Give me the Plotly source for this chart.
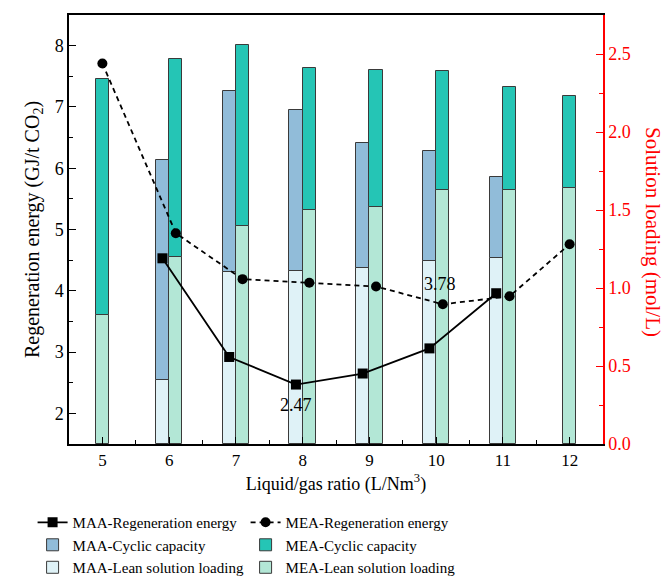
import plotly.graph_objects as go

# ---- data ----
ratio = [5, 6, 7, 8, 9, 10, 11, 12]
maa_ratio = [6, 7, 8, 9, 10, 11]

maa_lean = [0.41, 1.10, 1.11, 1.13, 1.17, 1.19]
maa_cyclic = [1.41, 1.16, 1.03, 0.80, 0.71, 0.52]

mea_lean = [0.83, 1.20, 1.40, 1.50, 1.52, 1.63, 1.63, 1.64]
mea_cyclic = [1.51, 1.27, 1.16, 0.91, 0.88, 0.76, 0.66, 0.59]

maa_energy = [4.53, 2.92, 2.47, 2.65, 3.06, 3.96]
mea_energy = [7.71, 4.94, 4.19, 4.13, 4.07, 3.78, 3.91, 4.76]

# ---- layout helpers ----
BW = 0.2
maa_offset = [-BW] * len(maa_ratio)
mea_offset = [-BW / 2 if (r not in maa_ratio) else 0 for r in ratio]
maa_center = [r - BW / 2 for r in maa_ratio]
mea_center = [r + o + BW / 2 for r, o in zip(ratio, mea_offset)]

FONT = "Liberation Serif"
C_MAA_CYC = "#91bcd9"
C_MAA_LEAN = "#dff2f7"
C_MEA_CYC = "#25c5b5"
C_MEA_LEAN = "#b3e7d6"
OUT = dict(color="#3a3a3a", width=1)

fig = go.Figure()

fig.add_trace(go.Scatter(
    x=maa_center, y=maa_energy, yaxis="y2", mode="lines+markers",
    name="MAA-Regeneration energy",
    line=dict(color="black", width=1.8),
    marker=dict(symbol="square", size=10, color="black"),
))
fig.add_trace(go.Scatter(
    x=mea_center, y=mea_energy, yaxis="y2", mode="lines+markers",
    name="MEA-Regeneration energy",
    line=dict(color="black", width=1.8, dash="5px,4px"),
    marker=dict(symbol="circle", size=10, color="black"),
))
fig.add_trace(go.Bar(
    x=maa_ratio, y=maa_cyclic, base=maa_lean, width=BW, offset=maa_offset,
    name="MAA-Cyclic capacity", marker=dict(color=C_MAA_CYC, line=OUT), yaxis="y",
))
fig.add_trace(go.Bar(
    x=ratio, y=mea_cyclic, base=mea_lean, width=BW, offset=mea_offset,
    name="MEA-Cyclic capacity", marker=dict(color=C_MEA_CYC, line=OUT), yaxis="y",
))
fig.add_trace(go.Bar(
    x=maa_ratio, y=maa_lean, width=BW, offset=maa_offset,
    name="MAA-Lean solution loading", marker=dict(color=C_MAA_LEAN, line=OUT), yaxis="y",
))
fig.add_trace(go.Bar(
    x=ratio, y=mea_lean, width=BW, offset=mea_offset,
    name="MEA-Lean solution loading", marker=dict(color=C_MEA_LEAN, line=OUT), yaxis="y",
))

fig.update_layout(
    width=665, height=583,
    margin=dict(l=69, r=62, t=15, b=139),
    paper_bgcolor="white", plot_bgcolor="white",
    barmode="overlay", bargap=0,
    font=dict(family=FONT, size=17, color="black"),
    showlegend=True,
    legend=dict(
        orientation="h", xref="container", yref="container",
        x=0.049, y=0.132, xanchor="left", yanchor="top",
        entrywidth=168, entrywidthmode="pixels",
        font=dict(family=FONT, size=15), tracegroupgap=0,
        bgcolor="rgba(0,0,0,0)",
    ),
    xaxis=dict(
        range=[4.5, 12.5], tickmode="array", tickvals=ratio,
        ticks="inside", ticklen=7, tickcolor="black", tickwidth=1,
        minor=dict(dtick=0.5, tick0=4.5, ticks="inside", ticklen=4, tickcolor="black"),
        showline=True, linecolor="black", linewidth=1.5, mirror=True,
        showgrid=False, zeroline=False,
        title=dict(text="Liquid/gas ratio (L/Nm<sup>3</sup>)", standoff=8,
                   font=dict(family=FONT, size=18)),
        tickfont=dict(family=FONT, size=17),
    ),
    yaxis=dict(
        side="right", range=[0, 2.75], tickmode="array",
        tickvals=[0, 0.5, 1.0, 1.5, 2.0, 2.5],
        ticktext=["0.0", "0.5", "1.0", "1.5", "2.0", "2.5"],
        ticks="inside", ticklen=7, tickcolor="red", tickwidth=1,
        minor=dict(dtick=0.25, tick0=0, ticks="inside", ticklen=4, tickcolor="red"),
        showline=True, linecolor="red", linewidth=1.5,
        showgrid=False, zeroline=False,
        tickfont=dict(family=FONT, size=18, color="red"),
    ),
    yaxis2=dict(
        side="left", overlaying="y", range=[1.5, 8.5], tickmode="array",
        tickvals=[2, 3, 4, 5, 6, 7, 8],
        ticks="inside", ticklen=7, tickcolor="black", tickwidth=1,
        minor=dict(dtick=0.5, tick0=1.5, ticks="inside", ticklen=4, tickcolor="black"),
        showline=True, linecolor="black", linewidth=1.5,
        showgrid=False, zeroline=False,
        title=dict(text="Regeneration energy (GJ/t CO<sub>2</sub>)", standoff=10,
                   font=dict(family=FONT, size=20)),
        tickfont=dict(family=FONT, size=18),
    ),
    annotations=[
        dict(x=8 - BW / 2, y=2.47, xref="x", yref="y2", text="2.47", showarrow=False,
             yshift=-20, font=dict(family=FONT, size=18)),
        dict(x=10 + BW / 2, y=3.78, xref="x", yref="y2", text="3.78", showarrow=False,
             yshift=20, xshift=-3, font=dict(family=FONT, size=18)),
        dict(x=(653 - 69) / (665 - 69 - 62), y=(444 - 232) / (444 - 15),
             xref="paper", yref="paper", text="Solution loading (mol/L)",
             showarrow=False, textangle=90, xanchor="center", yanchor="middle",
             font=dict(family=FONT, size=21, color="red")),
    ],
)

fig.write_html("out.html")
